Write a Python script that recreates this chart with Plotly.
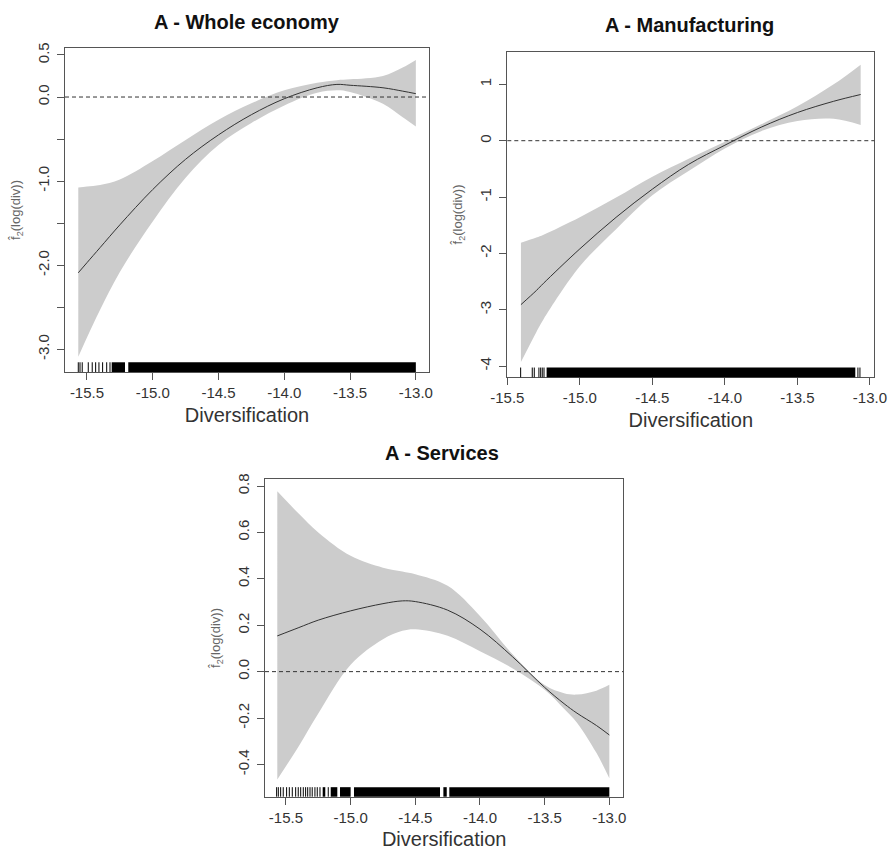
import plotly.graph_objects as go

# ---------------- data ----------------
titles = ["A - Whole economy", "A - Manufacturing", "A - Services"]

# Panel 1: Whole economy
x1 = [-15.566, -15.5, -15.4, -15.25, -15.0, -14.75, -14.5, -14.25, -14.0, -13.75, -13.6, -13.5, -13.25, -13.1, -13.0]
fit1 = [-2.09, -1.97, -1.79, -1.52, -1.10, -0.74, -0.45, -0.21, -0.02, 0.11, 0.15, 0.14, 0.11, 0.07, 0.04]
up1 = [-1.075, -1.065, -1.045, -0.98, -0.76, -0.51, -0.27, -0.075, 0.08, 0.17, 0.20, 0.21, 0.25, 0.35, 0.44]
lo1 = [-3.09, -2.86, -2.53, -2.08, -1.48, -0.96, -0.57, -0.31, -0.10, 0.05, 0.08, 0.06, -0.08, -0.24, -0.35]
rug1_ticks = [-15.566, -15.553, -15.536, -15.490, -15.460, -15.434, -15.409, -15.381, -15.350, -15.325]
rug1_blocks = [[-15.312, -15.211], [-15.186, -13.0]]

# Panel 2: Manufacturing
x2 = [-15.406, -15.3, -15.25, -15.0, -14.75, -14.5, -14.25, -14.0, -13.75, -13.5, -13.25, -13.064]
fit2 = [-2.91, -2.66, -2.53, -1.92, -1.36, -0.86, -0.42, -0.08, 0.24, 0.50, 0.70, 0.82]
up2 = [-1.81, -1.72, -1.67, -1.36, -1.01, -0.64, -0.32, -0.02, 0.29, 0.61, 1.00, 1.35]
lo2 = [-3.93, -3.40, -3.17, -2.23, -1.57, -0.97, -0.54, -0.14, 0.17, 0.35, 0.39, 0.28]
rug2_ticks = [-15.408, -15.328, -15.314, -15.282, -15.270, -15.259, -15.247, -13.083, -13.069]
rug2_blocks = [[-15.229, -13.101]]

# Panel 3: Services
x3 = [-15.567, -15.4, -15.25, -15.0, -14.75, -14.6, -14.5, -14.25, -14.0, -13.75, -13.5, -13.35, -13.25, -13.1, -13.0]
fit3 = [0.154, 0.190, 0.222, 0.262, 0.293, 0.305, 0.302, 0.265, 0.183, 0.065, -0.068, -0.138, -0.179, -0.232, -0.273]
up3 = [0.777, 0.680, 0.600, 0.499, 0.448, 0.432, 0.420, 0.370, 0.240, 0.076, -0.058, -0.093, -0.099, -0.082, -0.057]
lo3 = [-0.465, -0.320, -0.180, 0.030, 0.140, 0.176, 0.183, 0.155, 0.088, 0.015, -0.078, -0.160, -0.220, -0.350, -0.460]
rug3_ticks = [-15.572, -15.559, -15.541, -15.521, -15.495, -15.474, -15.451, -15.425, -15.405,
              -15.386, -15.366, -15.348, -15.332, -15.314, -15.297, -15.276, -15.258, -15.237, -15.173]
rug3_blocks = [[-15.216, -15.196], [-15.154, -15.103], [-15.082, -15.0], [-14.974, -14.309],
               [-14.283, -14.257], [-14.237, -13.0]]

x_tickvals = [-15.5, -15.0, -14.5, -14.0, -13.5, -13.0]
x_ticktext = ["-15.5", "-15.0", "-14.5", "-14.0", "-13.5", "-13.0"]
y1_tickvals = [0.5, 0.0, -1.0, -2.0, -3.0]
y1_ticktext = ["0.5", "0.0", "-1.0", "-2.0", "-3.0"]
y1_unlabeled = [-0.5, -1.5, -2.5]
y2_tickvals = [1, 0, -1, -2, -3, -4]
y2_ticktext = ["1", "0", "-1", "-2", "-3", "-4"]
y3_tickvals = [0.8, 0.6, 0.4, 0.2, 0.0, -0.2, -0.4]
y3_ticktext = ["0.8", "0.6", "0.4", "0.2", "0.0", "-0.2", "-0.4"]

x_title = "Diversification"
y_title = "f\u0302<sub>2</sub>(log(div))"

# ---------------- styling / layout ----------------
FONT = "Liberation Sans, Arial, sans-serif"
BAND = "#cccccc"
LINE = "#333333"
BOX = "#555555"
TXT = "#333333"

panels = [
    dict(x=x1, fit=fit1, up=up1, lo=lo1, ticks=rug1_ticks, blocks=rug1_blocks,
         xd=[65/890, 429/890], yd=[1-372/852, 1-48/852],
         xr=[-15.667, -12.90], yr=[-3.27, 0.583],
         ytv=y1_tickvals, ytt=y1_ticktext, yminor=y1_unlabeled, title_xy=(247/890, 1-22/852)),
    dict(x=x2, fit=fit2, up=up2, lo=lo2, ticks=rug2_ticks, blocks=rug2_blocks,
         xd=[507.3/890, 874.3/890], yd=[1-377.3/852, 1-51.7/852],
         xr=[-15.5, -12.97], yr=[-4.20, 1.58],
         ytv=y2_tickvals, ytt=y2_ticktext, yminor=None, title_xy=(689/890, 1-25/852)),
    dict(x=x3, fit=fit3, up=up3, lo=lo3, ticks=rug3_ticks, blocks=rug3_blocks,
         xd=[265/890, 623.3/890], yd=[1-796.7/852, 1-479.3/852],
         xr=[-15.662, -12.892], yr=[-0.539, 0.829],
         ytv=y3_tickvals, ytt=y3_ticktext, yminor=None, title_xy=(442/890, 1-453/852)),
]

fig = go.Figure()
shapes = []
annotations = []
layout_axes = {}
RUG_H = 0.03

for i, p in enumerate(panels, start=1):
    xa = "x" if i == 1 else f"x{i}"
    ya = "y" if i == 1 else f"y{i}"
    # confidence band
    fig.add_trace(go.Scatter(x=p["x"], y=p["lo"], xaxis=xa, yaxis=ya, mode="lines",
                             line=dict(width=0, color=BAND, shape="spline"),
                             hoverinfo="skip", showlegend=False))
    fig.add_trace(go.Scatter(x=p["x"], y=p["up"], xaxis=xa, yaxis=ya, mode="lines",
                             line=dict(width=0, color=BAND, shape="spline"),
                             fill="tonexty", fillcolor=BAND,
                             hoverinfo="skip", showlegend=False))
    # fitted smooth
    fig.add_trace(go.Scatter(x=p["x"], y=p["fit"], xaxis=xa, yaxis=ya, mode="lines",
                             line=dict(width=1, color=LINE, shape="spline"),
                             showlegend=False))
    # zero reference line
    shapes.append(dict(type="line", xref=f"{xa} domain", yref=ya, x0=0, x1=1, y0=0, y1=0,
                       line=dict(color=LINE, width=1, dash="4px,3px")))
    # rug
    for t in p["ticks"]:
        shapes.append(dict(type="line", xref=xa, yref=f"{ya} domain", x0=t, x1=t,
                           y0=0, y1=RUG_H, line=dict(color="black", width=1)))
    for b in p["blocks"]:
        shapes.append(dict(type="rect", xref=xa, yref=f"{ya} domain", x0=b[0], x1=b[1],
                           y0=0, y1=RUG_H, fillcolor="black", line=dict(width=0)))
    # axes
    axkey_x = "xaxis" if i == 1 else f"xaxis{i}"
    axkey_y = "yaxis" if i == 1 else f"yaxis{i}"
    layout_axes[axkey_x] = dict(
        domain=p["xd"], range=p["xr"], anchor=ya, tickvals=x_tickvals, ticktext=x_ticktext,
        ticks="outside", ticklen=7, tickcolor=BOX, showline=True, linecolor=BOX, linewidth=1,
        mirror=True, showgrid=False, zeroline=False, automargin=False,
        tickfont=dict(family=FONT, size=15, color=TXT),
        title=dict(text=x_title, font=dict(family=FONT, size=20, color=TXT), standoff=7))
    yax = dict(
        domain=p["yd"], range=p["yr"], anchor=xa, tickvals=p["ytv"], ticktext=p["ytt"],
        ticks="outside", ticklen=7, tickcolor=BOX, showline=True, linecolor=BOX, linewidth=1,
        mirror=True, showgrid=False, zeroline=False, tickangle=-90, automargin=False,
        ticklabelstandoff=2,
        tickfont=dict(family=FONT, size=15, color=TXT),
        title=dict(text=y_title, font=dict(family=FONT, size=13, color="#666666"), standoff=11))
    if p["yminor"]:
        yax["minor"] = dict(tickvals=p["yminor"], ticks="outside", ticklen=7,
                            tickcolor=BOX, showgrid=False)
    layout_axes[axkey_y] = yax
    annotations.append(dict(text=f"<b>{titles[i-1]}</b>", xref="paper", yref="paper",
                            x=p["title_xy"][0], y=p["title_xy"][1], xanchor="center",
                            yanchor="middle", showarrow=False,
                            font=dict(family=FONT, size=20, color="#111111")))

fig.update_layout(width=890, height=852, margin=dict(l=0, r=0, t=0, b=0),
                  paper_bgcolor="white", plot_bgcolor="white",
                  shapes=shapes, annotations=annotations, showlegend=False,
                  **layout_axes)

fig.write_html("out.html")
